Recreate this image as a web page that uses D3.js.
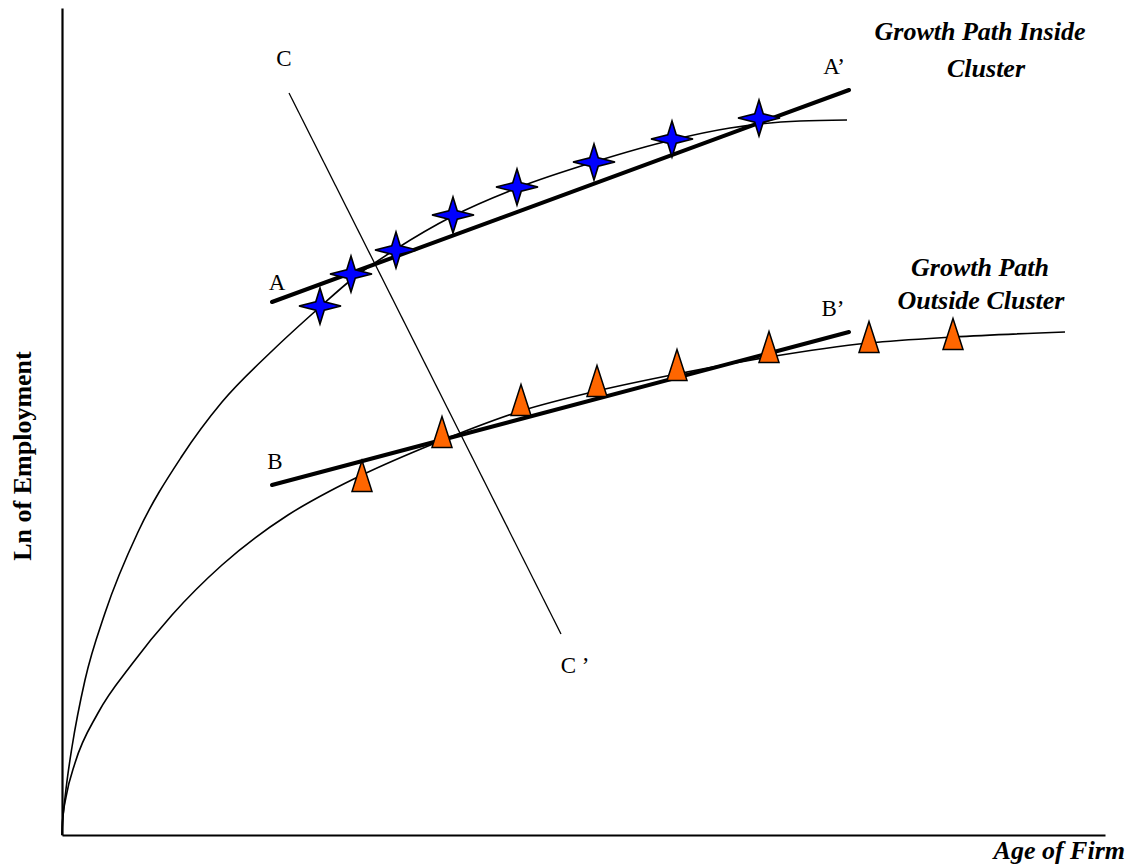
<!DOCTYPE html>
<html>
<head>
<meta charset="utf-8">
<script src="https://cdn.jsdelivr.net/npm/d3@7"></script>
<style>
  html, body { margin: 0; padding: 0; background: #fff; }
  svg { display: block; }
  text { font-family: "Liberation Serif", "Times New Roman", serif; fill: #000; }
</style>
</head>
<body>
<svg id="chart" width="1132" height="866"></svg>
<script>
// ---- Data: [age of firm, ln of employment] in arbitrary units ----
const insideCurve = [
  [0,0],[0.05,1.2],[0.2,2.8],[0.5,5.4],[1.0,8.8],[2.3,15.5],[4.3,22.2],[7.6,30.3],
  [12.0,37.9],[16.0,43.3],[21.0,48.4],[25.8,52.8],[28.9,55.5],[33.4,58.6],[39.1,61.9],
  [45.5,64.7],[53.2,67.3],[61.0,69.5],[66.8,70.7],[73.8,71.4],[78.5,71.5]
];
const outsideCurve = [
  [0,0],[0.02,0.8],[0.1,1.9],[0.4,3.8],[1.3,7.2],[3.6,12.2],[7.0,17.1],[11.0,22.0],
  [16.0,27.0],[22.6,32.0],[26.8,34.4],[30.0,36.0],[37.1,39.1],[45.9,42.4],[53.5,44.4],
  [61.5,46.1],[70.7,47.8],[80.7,49.2],[89.1,49.8],[100.3,50.3]
];
const insideFirms = [
  [25.8,52.9],[28.9,56.1],[33.4,58.5],[39.1,62.0],[45.5,64.8],[53.2,67.3],[61.0,69.6],[69.7,71.7]
];
const outsideFirms = [
  [30.0,35.9],[38.0,40.3],[45.9,43.5],[53.5,45.4],[61.5,47.0],[70.7,48.8],[80.7,49.8],[89.1,50.1]
];
const lineAA = [[21.0,53.3],[78.7,74.5]];
const lineBB = [[21.0,35.0],[78.7,50.3]];
const lineCC = [[22.7,74.2],[49.9,20.1]];
const pointLabels = [
  {text:"C", pos:[22.2,77.7]},
  {text:"A\u2019", pos:[77.2,76.9]},
  {text:"A", pos:[21.5,55.3]},
  {text:"B", pos:[21.3,37.4]},
  {text:"B\u2019", pos:[77.1,52.7]},
  {text:"C \u2019", pos:[51.3,17.0]}
];
const seriesLabels = [
  {lines:["Growth Path Inside","Cluster"], pos:[91.8,79.5], dx:[0,6], gap:37},
  {lines:["Growth Path","Outside Cluster"], pos:[91.8,55.9], dx:[0,1], gap:33}
];
const xTitle = "Age of Firm";
const yTitle = "Ln of Employment";

// ---- Drawing ----
const svg = d3.select("#chart");
const x = d3.scaleLinear().domain([0,104.3]).range([62,1105]);
const y = d3.scaleLinear().domain([0,82.7]).range([835,8]);

const xAxis = d3.axisBottom(x).tickValues([]).tickSizeOuter(0);
const yAxis = d3.axisLeft(y).tickValues([]).tickSizeOuter(0);
svg.append("g").attr("transform",`translate(0,${y(0)})`).call(xAxis)
  .select(".domain").attr("stroke","#000").attr("stroke-width",2.2);
svg.append("g").attr("transform",`translate(${x(0)},0)`).call(yAxis)
  .select(".domain").attr("stroke","#000").attr("stroke-width",2.2);

const curveGen = d3.line().x(d=>x(d[0])).y(d=>y(d[1])).curve(d3.curveMonotoneX);
const straight = d3.line().x(d=>x(d[0])).y(d=>y(d[1]));

svg.append("path").attr("d",curveGen(insideCurve)).attr("fill","none").attr("stroke","#000").attr("stroke-width",1.6);
svg.append("path").attr("d",curveGen(outsideCurve)).attr("fill","none").attr("stroke","#000").attr("stroke-width",1.6);

svg.append("path").attr("d",straight(lineAA)).attr("fill","none").attr("stroke","#000").attr("stroke-width",4).attr("stroke-linecap","round");
svg.append("path").attr("d",straight(lineBB)).attr("fill","none").attr("stroke","#000").attr("stroke-width",4).attr("stroke-linecap","round");
svg.append("path").attr("d",straight(lineCC)).attr("fill","none").attr("stroke","#000").attr("stroke-width",1.3);

function starPath(rx, ry, ri) {
  const pts = [];
  for (let i = 0; i < 8; i++) {
    const ang = i * Math.PI / 4;
    if (i % 2 === 0) pts.push([Math.cos(ang)*rx, Math.sin(ang)*ry]);
    else pts.push([Math.cos(ang)*ri, Math.sin(ang)*ri]);
  }
  return d3.line().curve(d3.curveLinearClosed)(pts);
}
svg.append("g").selectAll("path").data(insideFirms).join("path")
  .attr("transform",d=>`translate(${x(d[0])},${y(d[1])})`)
  .attr("d",starPath(21,18,6))
  .attr("fill","#0000ff").attr("stroke","#000").attr("stroke-width",1.6).attr("stroke-linejoin","miter");

const triPath = d3.line().curve(d3.curveLinearClosed)([[0,-15.5],[10,15.5],[-10,15.5]]);
svg.append("g").selectAll("path").data(outsideFirms).join("path")
  .attr("transform",d=>`translate(${x(d[0])},${y(d[1])})`)
  .attr("d",triPath)
  .attr("fill","#ff6600").attr("stroke","#000").attr("stroke-width",1.5).attr("stroke-linejoin","miter");

svg.append("g").selectAll("text").data(pointLabels).join("text")
  .attr("x",d=>x(d.pos[0])).attr("y",d=>y(d.pos[1]))
  .attr("text-anchor","middle").attr("dominant-baseline","central")
  .attr("font-size",23).text(d=>d.text);

seriesLabels.forEach(s=>{
  s.lines.forEach((t,i)=>{
    svg.append("text").attr("x",x(s.pos[0])+s.dx[i]).attr("y",y(s.pos[1])+i*s.gap)
      .attr("text-anchor","middle").attr("font-size",26)
      .attr("font-weight","bold").attr("font-style","italic").text(t);
  });
});

svg.append("text").attr("x",1125).attr("y",859).attr("text-anchor","end")
  .attr("font-size",26).attr("font-weight","bold").attr("font-style","italic").text(xTitle);
svg.append("text").attr("transform","translate(31,456) rotate(-90)").attr("text-anchor","middle")
  .attr("font-size",26).attr("font-weight","bold").text(yTitle);
</script>
</body>
</html>
